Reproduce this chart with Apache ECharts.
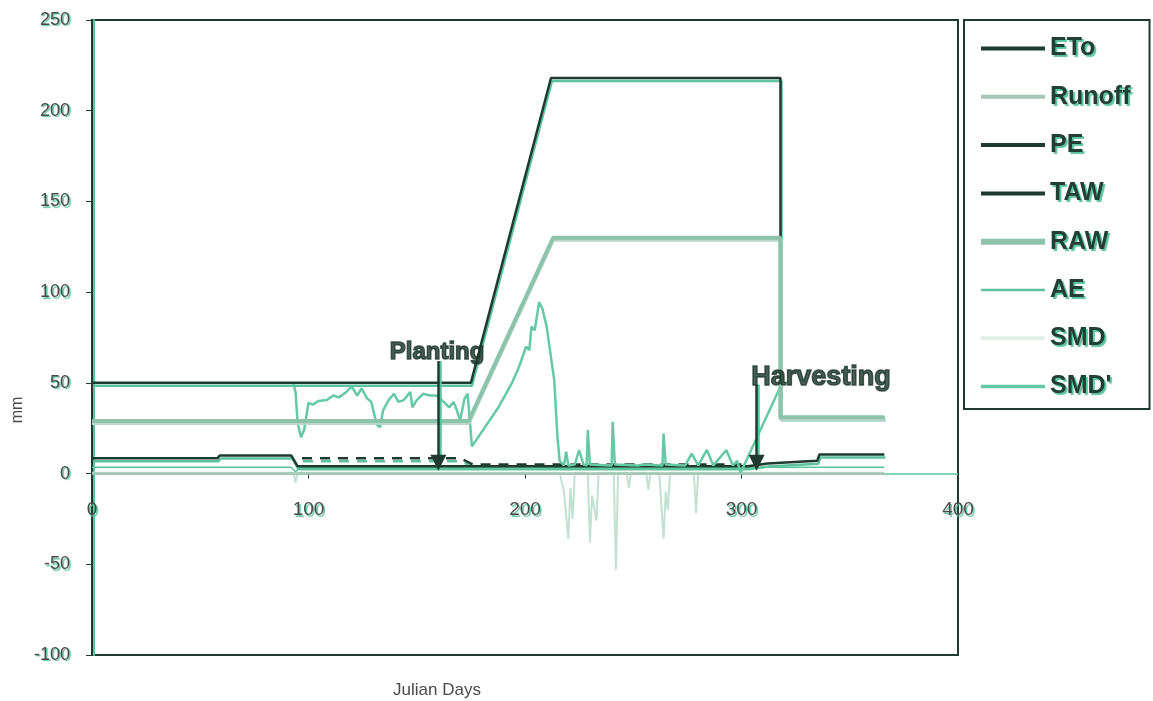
<!DOCTYPE html>
<html>
<head>
<meta charset="utf-8">
<title>Soil water balance</title>
<script src="https://cdn.jsdelivr.net/npm/echarts@6/dist/echarts.min.js"></script>
<style>
  html, body { margin: 0; padding: 0; background: #ffffff; }
  #chart { width: 1153px; height: 701px; }
</style>
</head>
<body>
<div id="chart"></div>
<script>
// Daily water balance terms, [Julian day, mm]
const ETo = [[0, 8.5], [58, 8.5], [59, 10], [92, 10], [95, 4], [303, 4], [312, 5.5], [335, 7], [336, 10.5], [366, 10.5]];
const Runoff = [[0, 0], [366, 0]];
const PE = [[97, 8.5], [170, 8.5], [176, 5], [300, 5]];
const TAW = [[0, 50], [175, 50], [212, 218], [318, 218], [318, 31], [366, 31]];
const RAW = [[0, 29], [174, 29], [213, 130], [318, 130], [318, 31], [366, 31]];
const AE = [[0, 3.5], [92, 3.5], [94, 1], [96, 3.5], [366, 3.5]];
const SMD = [[0, 0.5], [93, 0.5], [94, -5], [95, 0.5], [216, 0.5], [218, -10], [220, -36], [221, -8], [222, -25],
  [223, 0.5], [229, 0.5], [230, -38], [231, -12], [233, -26], [234, 0.5], [241, 0.5], [242, -53], [243, 0.5],
  [247, 0.5], [248, -8], [249, 0.5], [256, 0.5], [257, -9], [258, 0.5], [262, 0.5], [264, -36], [265, -10],
  [266, -20], [267, 0.5], [278, 0.5], [279, -22], [280, 0.5], [366, 0.5]];
const SMDp = [[93, 50], [94, 45], [95, 28], [96.5, 20], [98, 24], [100, 39], [102, 38], [104.5, 40], [108.5, 40.5],
  [111.5, 43], [114, 42], [117.5, 45], [120, 48], [122.5, 43], [124.5, 47], [127, 41.5], [129, 39.5], [131.5, 27],
  [133, 25.5], [134.5, 35], [137, 40.5], [139.5, 44], [141.5, 39.5], [144, 40.5], [147, 45], [148, 36.5], [150, 40.5],
  [153, 44], [156, 43], [159, 43], [162.5, 39.5], [165, 36.5], [167, 39.5], [168.5, 35], [170, 29], [172, 41],
  [173.5, 44], [175.5, 15], [188, 37], [194, 50], [197, 58], [200.5, 70], [202, 68], [203, 81], [204.5, 79],
  [206.5, 94.5], [208, 91], [210, 81], [213.5, 51.5], [215, 20], [216, 7], [218, 4.5], [219, 12], [220, 4.5],
  [223, 5], [225, 13], [227, 5], [228.5, 4.5], [229, 24], [230, 5], [240, 4.5], [240.5, 28.5], [241.5, 5],
  [252, 4.5], [255, 5], [263.5, 4.5], [264, 22], [265, 5], [274, 4.5], [277, 11], [280, 4.5], [284, 13],
  [287, 4.5], [293, 13], [296, 4.5], [298, 7], [299.5, 0.5], [301, 4], [318, 48]];

// Crop calendar events
const eventNames = ['Planting', 'Harvesting'];
const eventDays = [160, 307];
const eventArrowTop = [62, 49];
const eventArrowTip = 6;
const eventLabelPos = [[159.4, 67], [304.3, 53]];

const xTicks = [0, 100, 200, 300, 400];
const yTicks = [-100, -50, 0, 50, 100, 150, 200, 250];

const DARK = '#1f3b31';
const GREEN = '#5cc39e';
const ink = {
  fontFamily: 'Liberation Sans, Arial, sans-serif',
  textShadowColor: GREEN,
  textShadowOffsetX: 1.5,
  textShadowOffsetY: 1.5,
  textShadowBlur: 1
};

// plot box, in pixels
const GRID = { left: 92, right: 195, top: 20, bottom: 46 };
const CHART_H = 701;
const yMin = yTicks[0], yMax = yTicks[yTicks.length - 1];
// lift the day axis from the bottom edge up to the y = 0 line
const plotH = CHART_H - GRID.top - GRID.bottom;
const zeroLift = -plotH * (0 - yMin) / (yMax - yMin);

function lineSeries(name, data, color, width, extra) {
  return Object.assign({
    name: name,
    type: 'line',
    data: data,
    symbol: 'none',
    color: color,
    lineStyle: { color: color, width: width },
    z: 3
  }, extra || {});
}
const darkShadow = { shadowColor: GREEN, shadowOffsetX: 1, shadowOffsetY: 3, shadowBlur: 0 };

const chart = echarts.init(document.getElementById('chart'), null, { renderer: 'canvas' });

chart.setOption({
  animation: false,
  backgroundColor: '#ffffff',
  grid: Object.assign({ show: true, borderColor: DARK, borderWidth: 2 }, GRID),
  xAxis: {
    type: 'value',
    position: 'bottom',
    offset: zeroLift,
    min: xTicks[0], max: xTicks[xTicks.length - 1], interval: 100,
    axisLine: { onZero: false, lineStyle: { color: GREEN, width: 1.5 } },
    axisTick: { show: true, length: 5, lineStyle: { color: DARK } },
    axisLabel: Object.assign({ margin: 27, fontSize: 19, color: '#4a4a4a' }, ink),
    splitLine: { show: false }
  },
  yAxis: {
    type: 'value',
    min: yMin, max: yMax, interval: 50,
    axisLine: { show: true, onZero: false, lineStyle: { color: DARK, width: 2, shadowColor: GREEN, shadowOffsetX: 2, shadowBlur: 0 } },
    axisTick: { show: true, length: 6, lineStyle: { color: DARK } },
    axisLabel: Object.assign({ margin: 22, fontSize: 18, color: '#4a4a4a' }, ink),
    splitLine: { show: false }
  },
  legend: {
    orient: 'vertical',
    left: 964, top: 20,
    padding: [16, 19, 10, 14],
    itemWidth: 64, itemHeight: 14, itemGap: 23.3,
    borderColor: DARK, borderWidth: 2,
    itemStyle: { opacity: 0 },
    textStyle: Object.assign({ fontSize: 25, fontWeight: 'bold', color: '#213f35' }, ink, { textShadowOffsetX: 2, textShadowOffsetY: 2 }),
    data: [
      { name: 'ETo', lineStyle: { width: 4 } },
      { name: 'Runoff', lineStyle: { width: 4 } },
      { name: 'PE', lineStyle: { type: 'solid', width: 4 } },
      { name: 'TAW', lineStyle: { width: 4 } },
      { name: 'RAW', lineStyle: { width: 6 } },
      { name: 'AE', lineStyle: { width: 2.5 } },
      { name: 'SMD', lineStyle: { width: 4, color: '#e2efe8' } },
      { name: "SMD'", lineStyle: { width: 3.5 } }
    ]
  },
  graphic: [
    { type: 'text', x: 437, y: 690,
      style: { text: 'Julian Days', align: 'center', verticalAlign: 'middle', textAlign: 'center', textVerticalAlign: 'middle',
        font: '17px "Liberation Sans", Arial, sans-serif', fill: '#4a4a4a', shadowColor: GREEN, shadowOffsetX: 1, shadowOffsetY: 1 } },
    { type: 'text', x: 18, y: 410, rotation: Math.PI / 2,
      style: { text: 'mm', align: 'center', verticalAlign: 'middle', textAlign: 'center', textVerticalAlign: 'middle',
        font: '16px "Liberation Sans", Arial, sans-serif', fill: '#4a4a4a', shadowColor: GREEN, shadowOffsetX: 1, shadowOffsetY: 1 } }
  ],
  series: [
    lineSeries('SMD', SMD, '#c3e1d2', 2),
    lineSeries('Runoff', Runoff, '#a8c6b6', 2.5),
    lineSeries('AE', AE, GREEN, 1.5),
    lineSeries('PE', PE, DARK, 2.5, { lineStyle: Object.assign({ color: DARK, width: 2.5, type: [10, 8] }, darkShadow) }),
    lineSeries('ETo', ETo, DARK, 2.5, { lineStyle: Object.assign({ color: DARK, width: 2.5 }, darkShadow) }),
    lineSeries("SMD'", SMDp, '#66c9a6', 2.5),
    lineSeries('TAW', TAW, DARK, 2.5, { lineStyle: Object.assign({ color: DARK, width: 2.5 }, darkShadow) }),
    lineSeries('RAW', RAW, '#8dc3ab', 4, { lineStyle: { color: '#8dc3ab', width: 4, shadowColor: '#b9d8c9', shadowOffsetY: 2, shadowBlur: 0 } }),
    {
      name: 'events',
      type: 'scatter',
      symbolSize: 1,
      itemStyle: { color: 'rgba(0,0,0,0)' },
      z: 6,
      data: eventNames.map((n, i) => ({
        value: [eventLabelPos[i][0], eventLabelPos[i][1]],
        name: n,
        label: i === 0
          ? { position: 'inside', fontSize: 24 }
          : { position: 'right', distance: 0, fontSize: 27 }
      })),
      label: {
        show: true, formatter: '{b}', fontWeight: 'bold', color: '#1a352b',
        fontFamily: 'Liberation Sans, Arial, sans-serif',
        textBorderColor: '#1a352b', textBorderWidth: 1.5,
        textShadowColor: GREEN, textShadowOffsetX: 2.5, textShadowOffsetY: 2.5, textShadowBlur: 0
      },
      markLine: {
        silent: true,
        symbol: ['none', 'triangle'],
        symbolSize: 16,
        label: { show: false },
        itemStyle: { color: DARK },
        lineStyle: { color: DARK, width: 2.5, type: 'solid', shadowColor: GREEN, shadowOffsetX: 2, shadowBlur: 0 },
        data: eventDays.map((d, i) => [{ coord: [d, eventArrowTop[i]] }, { coord: [d, eventArrowTip] }])
      }
    }
  ]
});
</script>
</body>
</html>
